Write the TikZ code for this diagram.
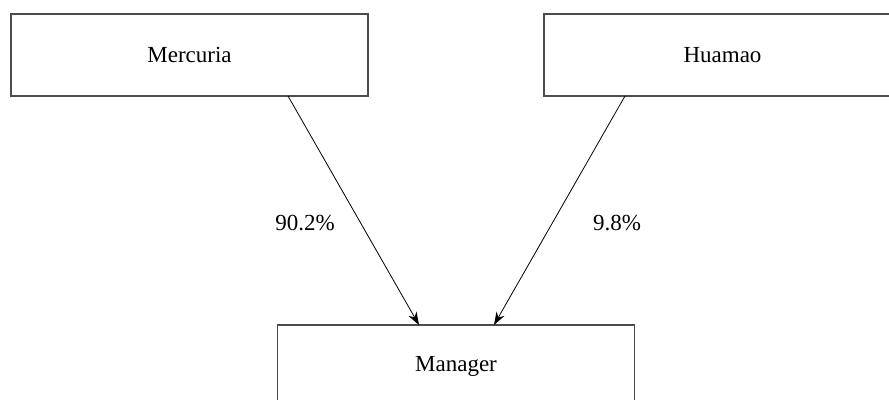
\documentclass[tikz,border=0pt]{standalone}
\usepackage{fontspec}
\setmainfont{Liberation Serif}
\usetikzlibrary{arrows.meta}
\begin{document}
\begin{tikzpicture}[x=1pt,y=-1pt,
  box/.style={draw=black!70,line width=1.3pt,minimum width=357pt,minimum height=82pt,inner sep=0pt,font=\fontsize{23}{26}\selectfont},
  lbl/.style={font=\fontsize{23}{26}\selectfont,inner sep=0pt},
  conn/.style={line width=0.8pt,-{Stealth[length=13pt,width=9pt]}}]
\useasboundingbox (0,0) rectangle (889,399);
\clip (0,0) rectangle (889,399);
\node[box] (merc) at (189.5,55) {Mercuria};
\node[box] (hua) at (722.5,55) {Huamao};
\node[box] (man) at (456,366) {Manager};
\coordinate (m1) at (288,96);
\coordinate (m2) at (419,325);
\coordinate (h1) at (625,96);
\coordinate (h2) at (494,325);
\draw[conn] (m1) -- (m2);
\draw[conn] (h1) -- (h2);
\node[lbl] (l1) at (305,223) {90.2\%};
\node[lbl] (l2) at (617,223) {9.8\%};
\end{tikzpicture}
\end{document}
